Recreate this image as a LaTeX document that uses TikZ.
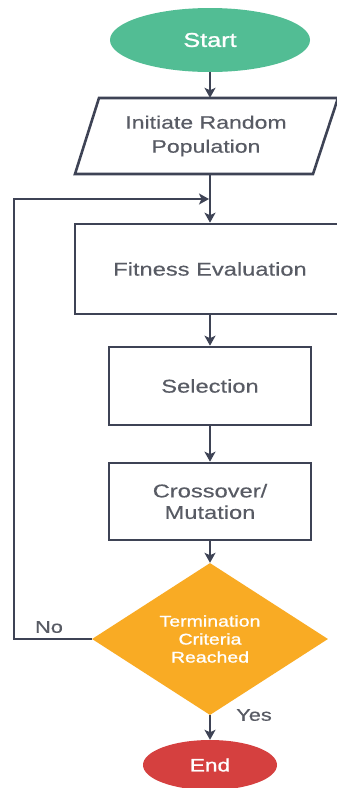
\documentclass[tikz,border=0pt]{standalone}
\usepackage{fontspec}
\setmainfont{Liberation Sans}[FakeStretch=1.28]
\newfontfamily\semib{Liberation Sans}[FakeStretch=1.26,FakeBold=1.2]
\newfontfamily\medf{Liberation Sans}[FakeStretch=1.28,FakeBold=0.4]
\usetikzlibrary{shapes.geometric,arrows.meta}
\definecolor{startgreen}{RGB}{82,189,148}
\definecolor{termorange}{RGB}{249,171,36}
\definecolor{endred}{RGB}{213,64,63}
\definecolor{linecol}{RGB}{62,67,85}
\definecolor{textgray}{RGB}{88,91,100}
\begin{document}
\begin{tikzpicture}[x=1pt,y=-1pt,
  terminal/.style={ellipse,inner sep=0pt,text=white},
  procbox/.style={rectangle,draw=linecol,line width=2.6pt,inner sep=0pt,text=textgray,align=center},
  conn/.style={draw=linecol,line width=1.8pt,-{Stealth[length=10pt,width=11pt,inset=2.5pt]}},
  lbl/.style={text=textgray,inner sep=0pt}]
\useasboundingbox (0,0) rectangle (337,788);
\clip (0,0) rectangle (337,788);
\fill[white] (0,0) rectangle (337,788);

% Start
\node[terminal,fill=startgreen,minimum width=200pt,minimum height=64pt,
  font=\semib\fontsize{20}{24}\selectfont] (start) at (210,40) {Start};

% Initiate Random Population (parallelogram)
\draw[linecol,line width=2.6pt,line join=miter,fill=white] (75,174) -- (313,174) -- (338,98) -- (99,98) -- cycle;
\node[inner sep=0pt,minimum height=76pt,minimum width=10pt,text=textgray,align=center,
  font=\medf\fontsize{18}{24}\selectfont] (init) at (206,136) {Initiate Random\\Population};

% Fitness Evaluation
\node[procbox,minimum width=270pt,minimum height=90pt,
  font=\medf\fontsize{18.5}{23}\selectfont] (fit) at (210,269) {Fitness Evaluation};

% Selection
\node[procbox,minimum width=202pt,minimum height=78pt,
  font=\medf\fontsize{18.5}{23}\selectfont] (sel) at (210,386) {Selection};

% Crossover / Mutation
\node[procbox,minimum width=202pt,minimum height=77pt,
  font=\medf\fontsize{18.5}{21.5}\selectfont] (cross) at (210,501.5) {Crossover/\\Mutation};

% Termination diamond
\node[diamond,fill=termorange,inner sep=0pt,minimum width=236pt,minimum height=152pt,
  text=white,align=center,font=\semib\fontsize{15.5}{18}\selectfont] (term) at (210,639)
  {Termination\\Criteria\\Reached};

% End
\node[terminal,fill=endred,minimum width=134pt,minimum height=50pt,
  font=\semib\fontsize{18}{22}\selectfont] (end) at (210,765) {End};

% labels
\node[lbl,font=\medf\fontsize{17}{20}\selectfont] (nolbl) at (49,627) {No};
\node[lbl,font=\medf\fontsize{17}{20}\selectfont] (yeslbl) at (254,715) {Yes};

% connectors
\coordinate (fbl) at (14,199);
\coordinate (fbj) at (209,199);
\draw[conn] (start.south) -- (start.south |- init.north);
\draw[conn] (init.south -| fit.north) -- (fit.north);
\draw[conn] (fit.south) -- (sel.north);
\draw[conn] (sel.south) -- (cross.north);
\draw[conn] (cross.south) -- (term.north);
\draw[conn] (term.south) -- (end.north);
\draw[conn] (term.west) -| (fbl) -- (fbj);
\end{tikzpicture}
\end{document}
